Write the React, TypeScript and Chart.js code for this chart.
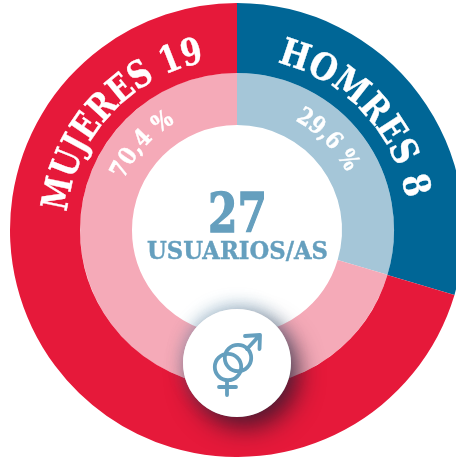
import React, { useEffect, useRef } from "react";
import { Chart, registerables } from "chart.js";

Chart.register(...registerables);

const categories = ["HOMRES", "MUJERES"];
const counts = [8, 19];
const shares = [29.6, 70.4];
const shareLabels = ["29,6 %", "70,4 %"];
const strongColors = ["#006696", "#E6193A"];
const paleColors = ["#A5C6D8", "#F5AAB8"];
const totalValue = "27";
const totalLabel = "USUARIOS/AS";

const CX = 237;
const CY = 230;
const SERIF = "'DejaVu Serif', serif";
const BLUE = "#659FBE";

function arc(r: number, a0: number, a1: number) {
  const p = (a: number) => {
    const t = (a * Math.PI) / 180;
    return `${(CX + r * Math.sin(t)).toFixed(2)} ${(CY - r * Math.cos(t)).toFixed(2)}`;
  };
  return `M ${p(a0)} A ${r} ${r} 0 0 1 ${p(a1)}`;
}

const discPlugin = {
  id: "disc",
  afterDraw(chart: any) {
    const c = chart.ctx;
    c.save();
    c.fillStyle = "#fff";
    c.shadowColor = "rgba(90,150,185,0.4)";
    c.shadowBlur = 16;
    c.shadowOffsetX = 0;
    c.shadowOffsetY = -5;
    c.beginPath();
    c.arc(CX, 363, 54, 0, Math.PI * 2);
    c.fill();
    c.shadowColor = "rgba(35,20,40,0.75)";
    c.shadowBlur = 24;
    c.shadowOffsetX = 8;
    c.shadowOffsetY = 11;
    c.beginPath();
    c.arc(CX, 363, 54, 0, Math.PI * 2);
    c.fill();
    c.restore();
  },
};

function CurvedText(props: { id: string; text: string; r: number; a0: number; a1: number; size: number; len: number; thick: number; weight?: string }) {
  const { id, text, r, a0, a1, size, len, thick, weight = "bold" } = props;
  return (
    <>
      <path id={id} d={arc(r, a0, a1)} fill="none" />
      <text fill="#fff" stroke="#fff" strokeWidth={thick} fontFamily={SERIF} fontWeight={weight} fontSize={size}>
        <textPath href={`#${id}`} textLength={len} lengthAdjust="spacingAndGlyphs">
          {text}
        </textPath>
      </text>
    </>
  );
}

export default function App() {
  const ref = useRef<HTMLCanvasElement>(null);
  useEffect(() => {
    const chart = new Chart(ref.current!, {
      type: "doughnut",
      data: {
        labels: categories,
        datasets: [
          { data: counts, backgroundColor: strongColors, borderWidth: 0, weight: 70 },
          { data: shares, backgroundColor: paleColors, borderWidth: 0, weight: 52 },
        ],
      } as any,
      options: {
        animation: false,
        responsive: false,
        cutout: "46.26%",
        layout: { padding: { left: 10, top: 3, right: 10, bottom: 0 } },
        plugins: { legend: { display: false }, tooltip: { enabled: false } },
      } as any,
      plugins: [discPlugin],
    });
    return () => chart.destroy();
  }, []);

  return (
    <div style={{ position: "absolute", left: 0, top: 0, width: 456, height: 457, overflow: "hidden", background: "#fff" }}>
      <canvas ref={ref} width={474} height={457} style={{ display: "block", width: 474, height: 457 }} />
      <svg width={456} height={457} style={{ position: "absolute", left: 0, top: 0 }}>
        <CurvedText id="a" text={`${categories[0]} ${counts[0]}`} r={172} a0={13.5} a1={82} size={37} len={198} thick={0.4} />
        <CurvedText id="b" text={`${categories[1]} ${counts[1]}`} r={171} a0={-84} a1={-8} size={37} len={218} thick={0.4} />
        <CurvedText id="c" text={shareLabels[0]} r={124} a0={28} a1={70} size={24} len={74} thick={0.5} />
        <CurvedText id="d" text={shareLabels[1]} r={124} a0={-66} a1={-22} size={24} len={78} thick={0.5} />
        <text x={237.5} y={232} textAnchor="middle" fill={BLUE} stroke={BLUE} strokeWidth={1.4} fontFamily={SERIF} fontWeight="bold" fontSize={55} textLength={59} lengthAdjust="spacingAndGlyphs">
          {totalValue}
        </text>
        <text x={237.5} y={259} textAnchor="middle" fill={BLUE} stroke={BLUE} strokeWidth={0.4} fontFamily={SERIF} fontWeight="bold" fontSize={24} textLength={181} lengthAdjust="spacingAndGlyphs">
          {totalLabel}
        </text>
        <g fill="none" stroke={BLUE} strokeWidth={3.8} strokeLinecap="round" strokeLinejoin="round">
          <circle cx={228} cy={367} r={13.2} />
          <circle cx={238} cy={358} r={13.2} />
          <path d="M247 349 L259 336 M245 336 L260 335 L259.5 349" />
          <path d="M227 381 L227 395 M219 387 L236 387" />
        </g>
      </svg>
    </div>
  );
}
